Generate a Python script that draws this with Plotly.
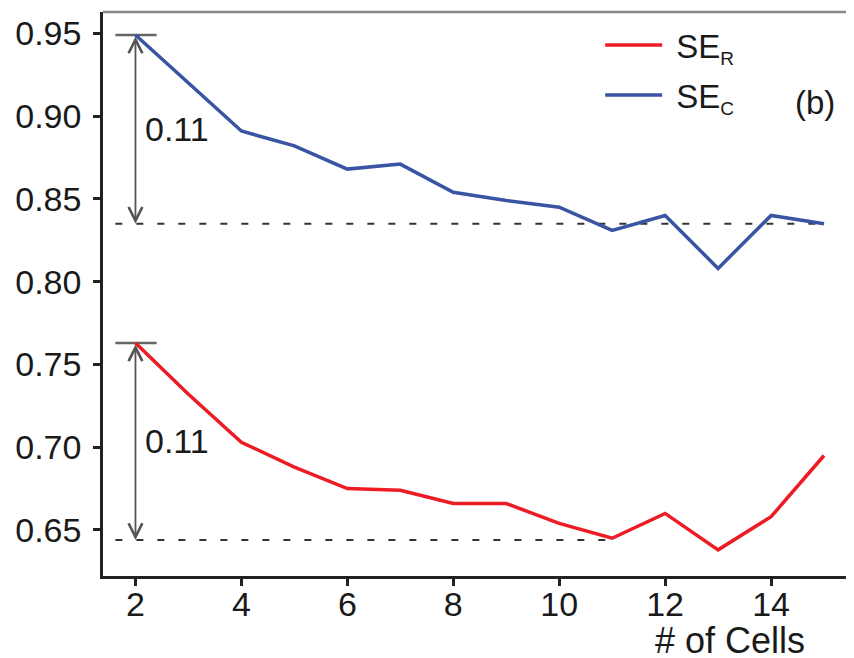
import plotly.graph_objects as go

# ---- data ----
cells = [2, 3, 4, 5, 6, 7, 8, 9, 10, 11, 12, 13, 14, 15]
se_r = [0.763, 0.732, 0.703, 0.688, 0.675, 0.674, 0.666, 0.666, 0.654, 0.645, 0.660, 0.638, 0.658, 0.695]
se_c = [0.949, 0.920, 0.891, 0.882, 0.868, 0.871, 0.854, 0.849, 0.845, 0.831, 0.840, 0.808, 0.840, 0.835]
ref_c = 0.835          # dashed reference level for SE_C
ref_r = 0.644          # dashed reference level for SE_R
ref_c_span = [1.62, 15]
ref_r_span = [1.62, 11]
cap_span = [1.62, 2.4]
gap_label = "0.11"
y_ticks = [0.65, 0.70, 0.75, 0.80, 0.85, 0.90, 0.95]
x_ticks = [2, 4, 6, 8, 10, 12, 14]

RED = "#ED1C24"
BLUE = "#3A54A4"
FONT = "Liberation Sans, Arial, sans-serif"
TXT = "#1a1a1a"

fig = go.Figure()

# dashed reference lines
fig.add_trace(go.Scatter(x=ref_c_span, y=[ref_c, ref_c], mode="lines",
                         line=dict(color="#333333", width=2, dash="7px,14px"),
                         showlegend=False, hoverinfo="skip"))
fig.add_trace(go.Scatter(x=ref_r_span, y=[ref_r, ref_r], mode="lines",
                         line=dict(color="#333333", width=2, dash="7px,14px"),
                         showlegend=False, hoverinfo="skip"))
# caps at the starting values
fig.add_trace(go.Scatter(x=cap_span, y=[se_c[0], se_c[0]], mode="lines",
                         line=dict(color="#666666", width=2.5),
                         showlegend=False, hoverinfo="skip"))
fig.add_trace(go.Scatter(x=cap_span, y=[se_r[0], se_r[0]], mode="lines",
                         line=dict(color="#666666", width=2.5),
                         showlegend=False, hoverinfo="skip"))

SUB = "<sub><span style='font-size:19px'>%s</span></sub>"
# series
fig.add_trace(go.Scatter(x=cells, y=se_r, mode="lines",
                         name="&nbsp;SE" + SUB % "R",
                         legendgroup="r",
                         line=dict(color=RED, width=3.5)))
fig.add_trace(go.Scatter(x=cells, y=se_c, mode="lines",
                         name="&nbsp;SE" + SUB % "C",
                         legendgroup="c",
                         line=dict(color=BLUE, width=3.5)))

annotations = []
for top, bottom in [(se_c[0], ref_c), (se_r[0], ref_r)]:
    annotations.append(dict(x=cells[0], y=bottom, ax=cells[0], ay=top,
                            xref="x", yref="y", axref="x", ayref="y",
                            text="", showarrow=True, arrowside="end+start",
                            arrowhead=5, startarrowhead=5, arrowsize=1.5,
                            startarrowsize=1.5, arrowwidth=1.8,
                            arrowcolor="#555555", standoff=0, startstandoff=0))
    annotations.append(dict(x=2.15, y=(top + bottom) / 2, xref="x", yref="y",
                            text=gap_label, showarrow=False, xanchor="left",
                            yanchor="middle",
                            font=dict(family=FONT, size=34, color=TXT)))

annotations.append(dict(x=0.937, y=-0.1135, xref="paper", yref="paper",
                        text="# of Cells", showarrow=False, xanchor="right",
                        yanchor="middle", font=dict(family=FONT, size=36, color=TXT)))
annotations.append(dict(x=0.948, y=0.84, xref="paper", yref="paper",
                        text="(b)", showarrow=False, xanchor="center",
                        yanchor="middle", font=dict(family=FONT, size=33, color=TXT)))

# the page body adds an 8px offset, so margins are reduced by 8 on left/top
fig.update_layout(
    width=854, height=658,
    margin=dict(l=95, r=8, t=4, b=90),
    paper_bgcolor="white", plot_bgcolor="white",
    font=dict(family=FONT, color=TXT),
    showlegend=True,
    legend=dict(x=0.662, y=0.991, xanchor="left", yanchor="top",
                bgcolor="rgba(0,0,0,0)", borderwidth=0,
                font=dict(family=FONT, size=33, color=TXT),
                itemwidth=57, tracegroupgap=4),
    annotations=annotations,
    shapes=[dict(type="line", xref="paper", yref="paper", x0=0, x1=1, y0=1, y1=1,
                 line=dict(color="#888888", width=2.5))],
)

fig.update_xaxes(range=[1.387, 15.566], tickvals=x_ticks, showgrid=False,
                 zeroline=False, showline=True, linecolor="#222222", linewidth=2.5,
                 ticks="outside", ticklen=7, tickwidth=2.5, tickcolor="#222222",
                 ticklabelstandoff=-11,
                 tickfont=dict(family=FONT, size=34, color=TXT))
fig.update_yaxes(range=[0.6222, 0.9629], tickvals=y_ticks, tickformat=".2f",
                 showgrid=False, zeroline=False, showline=True,
                 linecolor="#222222", linewidth=2.5,
                 ticks="outside", ticklen=7, tickwidth=2.5, tickcolor="#222222",
                 ticklabelstandoff=5,
                 tickfont=dict(family=FONT, size=34, color=TXT))

fig.write_html("out.html")
